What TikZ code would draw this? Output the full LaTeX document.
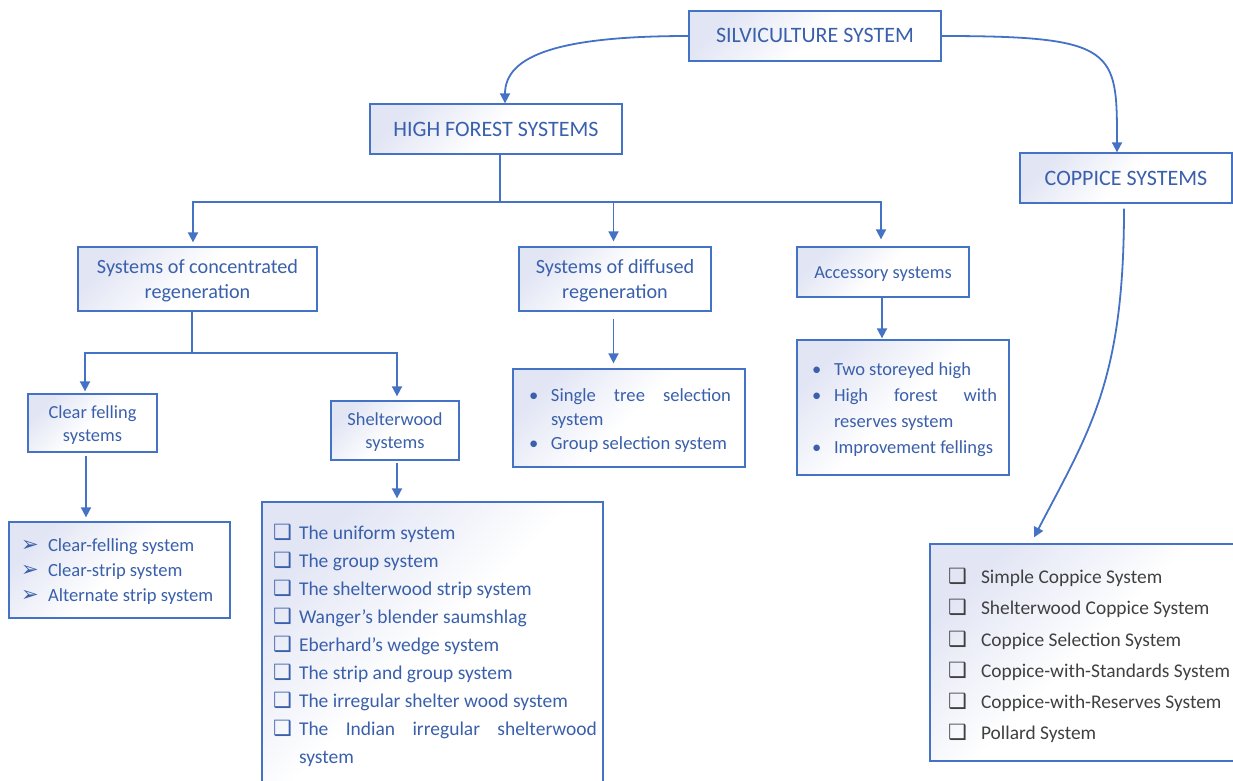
\documentclass[tikz,border=0pt]{standalone}
\usepackage{fontspec}
\setmainfont{Carlito}
\newfontfamily\dejavu{DejaVu Sans}
\usetikzlibrary{arrows.meta}
\definecolor{lineblue}{HTML}{4472C4}
\definecolor{textblue}{HTML}{3A60AC}
\definecolor{boxtl}{HTML}{E2E5F4}
\definecolor{graytext}{HTML}{404040}
\newcommand\listline[4]{\hspace*{#1}\makebox[#2][l]{#3}#4}
\newcommand\arrb{{\dejavu\fontsize{21}{21}\selectfont ➢}}
\newcommand\sqb{{\dejavu\fontsize{21}{21}\selectfont ❑}}
\newcommand\tbox[3]{\raisebox{-#1}[\height][\depth]{\parbox{#2}{#3}}}
\begin{document}
\begin{tikzpicture}[x=1pt,y=-1pt,
  box/.style={draw=lineblue, line width=1.3pt, top color=boxtl, bottom color=white, middle color=white, shading angle=45, text=textblue, inner sep=0pt},
  ftitle/.style={font=\fontsize{22}{26}\selectfont},
  fmid/.style={font=\fontsize{20.2}{25}\selectfont},
  fsmall/.style={font=\fontsize{18.4}{23}\selectfont},
  conn/.style={draw=lineblue, line width=1.8pt},
  arr/.style={conn, -{Triangle[length=10pt,width=10pt]}}]
\useasboundingbox (0,0) rectangle (1233,780);

% main boxes
\node[box, ftitle, minimum width=252pt, minimum height=50pt] (silv) at (815,36) {\tbox{-0.5pt}{250pt}{\centering SILVICULTURE SYSTEM}};
\node[box, ftitle, minimum width=252pt, minimum height=50pt] (hf) at (496,129) {\tbox{0pt}{250pt}{\centering HIGH FOREST SYSTEMS}};
\node[box, ftitle, minimum width=212pt, minimum height=50pt] (cop) at (1126,178) {\tbox{0pt}{210pt}{\centering COPPICE SYSTEMS}};
\node[box, fmid, minimum width=239pt, minimum height=64pt] (conc) at (197.5,279) {\tbox{2pt}{237pt}{\centering Systems of concentrated\\regeneration}};
\node[box, fmid, minimum width=192pt, minimum height=64pt] (diff) at (615,279) {\tbox{2pt}{190pt}{\centering Systems of diffused\\regeneration}};
\node[box, fsmall, minimum width=172pt, minimum height=50pt] (acc) at (883,272) {\tbox{2pt}{170pt}{\centering Accessory systems}};
\node[box, fsmall, minimum width=129pt, minimum height=58pt] (cf) at (92.5,423) {\tbox{2pt}{127pt}{\centering Clear felling\\systems}};
\node[box, fsmall, minimum width=128pt, minimum height=59pt] (sw) at (395,430.5) {\tbox{2pt}{126pt}{\centering Shelterwood\\systems}};

% list boxes
\node[box, minimum width=221pt, minimum height=96pt, font=\fontsize{18.6}{25}\selectfont] (cfl) at (119.5,570) {\tbox{2pt}{219pt}{%
\listline{11pt}{27pt}{\arrb}{Clear-felling system}\\
\listline{11pt}{27pt}{\arrb}{Clear-strip system}\\
\listline{11pt}{27pt}{\arrb}{Alternate strip system}}};

\node[box, minimum width=341pt, minimum height=284pt, font=\fontsize{19.5}{28}\selectfont] (swl) at (432.5,644) {\tbox{1pt}{339pt}{%
\listline{10pt}{26pt}{\sqb}{The uniform system}\\
\listline{10pt}{26pt}{\sqb}{The group system}\\
\listline{10pt}{26pt}{\sqb}{The shelterwood strip system}\\
\listline{10pt}{26pt}{\sqb}{Wanger’s blender saumshlag}\\
\listline{10pt}{26pt}{\sqb}{Eberhard’s wedge system}\\
\listline{10pt}{26pt}{\sqb}{The strip and group system}\\
\listline{10pt}{26pt}{\sqb}{The irregular shelter wood system}\\
\listline{10pt}{26pt}{\sqb}{\hbox to 298pt{The\hfill Indian\hfill irregular\hfill shelterwood}}\\
\hspace*{36pt}system}};

\node[box, minimum width=232pt, minimum height=98pt, font=\fontsize{18.6}{24}\selectfont] (dl) at (629,418) {\tbox{3pt}{230pt}{%
\listline{15pt}{22pt}{•}{\hbox to 180pt{Single\hfill tree\hfill selection}}\\
\hspace*{37pt}system\\
\listline{15pt}{22pt}{•}{Group selection system}}};

\node[box, minimum width=212pt, minimum height=135pt, font=\fontsize{18.5}{26}\selectfont] (al) at (903,407.5) {\tbox{2pt}{210pt}{%
\listline{14pt}{22pt}{•}{Two storeyed high}\\
\listline{14pt}{22pt}{•}{\hbox to 163pt{High\hfill forest\hfill with}}\\
\hspace*{36pt}reserves system\\
\listline{14pt}{22pt}{•}{Improvement fellings}}};

\node[box, minimum width=310pt, minimum height=217pt, text=graytext, font=\fontsize{19.4}{31.2}\selectfont] (cl) at (1085,652.5) {\tbox{3pt}{308pt}{%
\listline{17pt}{33pt}{\sqb}{Simple Coppice System}\\
\listline{17pt}{33pt}{\sqb}{Shelterwood Coppice System}\\
\listline{17pt}{33pt}{\sqb}{Coppice Selection System}\\
\listline{17pt}{33pt}{\sqb}{Coppice-with-Standards System}\\
\listline{17pt}{33pt}{\sqb}{Coppice-with-Reserves System}\\
\listline{17pt}{33pt}{\sqb}{Pollard System}}};

% connectors
\draw[arr] (silv.west) .. controls (560,36) and (505,55) .. ([xshift=9pt]hf.north);
\draw[arr] (silv.east) .. controls (1117,36) and (1117,50) .. ([xshift=-9pt]cop.north);

\coordinate (hfs) at ([xshift=4pt]hf.south);
\coordinate (hfj) at ([yshift=-47pt]hfs);
\draw[conn] (hfs) -- (hfj);
\draw[arr, shorten >=4pt] (hfj) -| ([xshift=-4.5pt]conc.north);
\draw[arr, shorten >=5pt] (hfj) -| ([xshift=-1.5pt]diff.north);
\draw[arr, shorten >=7pt] (hfj) -| ([xshift=-2pt]acc.north);

\coordinate (cs) at ([xshift=-5.5pt]conc.south);
\coordinate (cj) at ([yshift=-41pt]cs);
\draw[conn] (cs) -- (cj);
\draw[arr, shorten >=2pt] (cj) -| ([xshift=-7.5pt]cf.north);
\draw[arr, shorten >=4pt] (cj) -| ([xshift=2pt]sw.north);

\coordinate (cfs) at ([xshift=-6.5pt]cf.south);
\draw[arr, shorten <=3pt, shorten >=4pt] (cfs) -- (cfs |- cfl.north);
\coordinate (sws) at ([xshift=2pt]sw.south);
\draw[arr, shorten <=2pt, shorten >=3pt] (sws) -- (sws |- swl.north);
\coordinate (ds) at ([xshift=-1.5pt]diff.south);
\draw[arr, shorten <=7pt, shorten >=5pt] (ds) -- (ds |- dl.north);
\coordinate (as) at ([xshift=-1pt]acc.south);
\draw[arr, shorten >=1pt] (as) -- (as |- al.north);

\coordinate (cops) at ([xshift=-2pt]cop.south);
\coordinate (cle) at ([xshift=-51pt,yshift=6pt]cl.north);
\draw[arr, shorten <=5pt] (cops) .. controls (1124,380) and (1090,430) .. (cle);
\end{tikzpicture}
\end{document}
